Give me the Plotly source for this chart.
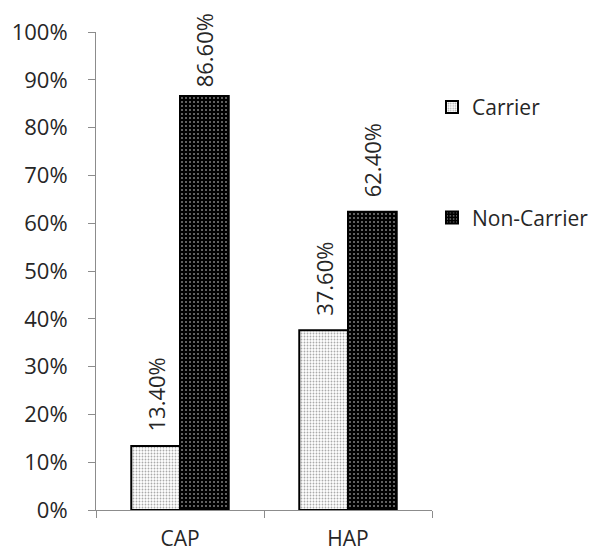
import plotly.graph_objects as go

categories = ["CAP", "HAP"]
carrier = [0.134, 0.376]
non_carrier = [0.866, 0.624]
carrier_labels = ["13.40%", "37.60%"]
non_carrier_labels = ["86.60%", "62.40%"]

font_family = "Open Sans, Liberation Sans, sans-serif"
axis_color = "#8c8c8c"
text_color = "#262626"


def padded(labels, values):
    # leading gap between bar top and rotated label; tall bars get less room
    return [("\u00a0" if v > 0.8 else "\u00a0\u00a0") + t for t, v in zip(labels, values)]


fig = go.Figure()
fig.add_trace(go.Bar(
    x=categories, y=carrier, name="Carrier",
    text=padded(carrier_labels, carrier), textposition="outside", textangle=-90,
    cliponaxis=False, constraintext="none",
    textfont=dict(size=22, color=text_color, family=font_family),
    marker=dict(color="white", line=dict(color="black", width=2),
                pattern=dict(shape=".", fgcolor="#555555", size=3, solidity=0.3)),
    legendgroup="a",
))
fig.add_trace(go.Bar(
    x=categories, y=non_carrier, name="Non-Carrier",
    text=padded(non_carrier_labels, non_carrier), textposition="outside", textangle=-90,
    cliponaxis=False, constraintext="none",
    textfont=dict(size=22, color=text_color, family=font_family),
    marker=dict(color="black", line=dict(color="black", width=2),
                pattern=dict(shape=".", fgcolor="white", size=4, solidity=0.2)),
    legendgroup="b",
))

fig.update_layout(
    width=598, height=554,
    margin=dict(l=88, r=174, t=24, b=52, autoexpand=False),
    paper_bgcolor="white", plot_bgcolor="white",
    barmode="group", bargap=0.42, bargroupgap=0,
    font=dict(family=font_family, size=21, color=text_color),
    showlegend=True,
    legend=dict(x=1.0, y=0.885, xanchor="left", yanchor="top",
                tracegroupgap=80, font=dict(size=21, color=text_color),
                itemwidth=30, bgcolor="rgba(0,0,0,0)"),
)
fig.update_yaxes(range=[0, 1], dtick=0.1, tickformat=".0%",
                 showgrid=False, zeroline=False, automargin=False,
                 showline=True, linecolor=axis_color, linewidth=1,
                 ticks="outside", ticklen=7, tickcolor=axis_color,
                 ticklabelstandoff=16,
                 tickfont=dict(size=22, color=text_color))
fig.update_xaxes(showgrid=False, showline=True, linecolor=axis_color, linewidth=1,
                 automargin=False,
                 ticks="outside", ticklen=7, tickcolor=axis_color,
                 tickson="boundaries", ticklabelstandoff=10,
                 tickfont=dict(size=21, color=text_color))

fig.write_html("out.html")
